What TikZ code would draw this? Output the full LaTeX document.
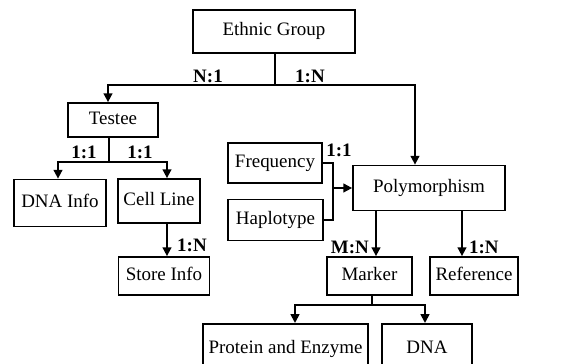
\documentclass[tikz,border=0pt]{standalone}
\usepackage{fontspec}
\setmainfont{Liberation Serif}
\usetikzlibrary{arrows.meta}
\usetikzlibrary{positioning}
\usetikzlibrary{calc}

\begin{document}
\begin{tikzpicture}[x=0.02cm,y=-0.02cm,font=\fontsize{10.8}{12}\selectfont]
\tikzstyle{ent node}=[rectangle,draw,line width=1pt,inner sep=1.5,align=center,text height=7.5pt,text depth=2.5pt]
\tikzstyle{card}=[font=\fontsize{10.8}{12}\selectfont\bfseries,inner sep=1]
\tikzset{
  link/.style = {line width=1pt},
  arr/.style = {line width=1pt,-{Triangle[length=5pt,width=5pt]}}
}
\useasboundingbox (0,0) rectangle (569,364);

    \node[ent node,minimum width=3.24cm,minimum height=0.86cm] (eg) at (274,31.5) {Ethnic Group};
    \node[ent node,minimum width=1.8cm,minimum height=0.68cm] (testee) at (113,120) {Testee};
    \node[ent node,minimum width=1.84cm,minimum height=0.94cm] (dnainfo) at (60,203) {DNA Info};
    \node[ent node,minimum width=1.64cm,minimum height=0.88cm] (cellline) at (159,201) {Cell Line};
    \node[ent node,minimum width=1.82cm,minimum height=0.76cm] (storeinfo) at (164,276) {Store Info};
    \node[ent node,minimum width=1.88cm,minimum height=0.8cm] (freq) at (275,163) {Frequency};
    \node[ent node,minimum width=1.9cm,minimum height=0.82cm] (haplo) at (275.5,220) {Haplotype};
    \node[ent node,minimum width=3.04cm,minimum height=0.9cm] (poly) at (429,188) {Polymorphism};
    \node[ent node,minimum width=1.7cm,minimum height=0.76cm] (marker) at (369.5,276) {Marker};
    \node[ent node,minimum width=1.76cm,minimum height=0.76cm] (reference) at (474,276) {Reference};
    \node[ent node,minimum width=3.3cm,minimum height=1cm,anchor=north] (protein) at (285.5,323) {Protein and Enzyme};
    \node[ent node,minimum width=1.8cm,minimum height=1cm,anchor=north] (dna) at (427,323) {DNA};

    %%%%%%%%%%%%%%%%%%%%%%%%%%
    \coordinate (egsplit) at (275,85);
    \coordinate (tsplit) at (109,162);
    \coordinate (join) at (333,188);
    \coordinate (msplit) at (372,305);

    \draw[link] (eg.south -| egsplit) -- (egsplit);
    \draw[arr] (egsplit) -| ([xshift=-0.1cm]testee.north);
    \draw[arr] (egsplit) -| ([xshift=-0.28cm]poly.north);

    \draw[link] (testee.south -| tsplit) -- (tsplit);
    \draw[arr] (tsplit) -| ([xshift=-0.04cm]dnainfo.north);
    \draw[arr] (tsplit) -| ([xshift=0.16cm]cellline.north);
    \draw[arr] ([xshift=0.16cm]cellline.south) -- ([xshift=0.16cm]cellline.south |- storeinfo.north);

    \draw[link] (freq.east) -| (join);
    \draw[link] (haplo.east) -| (join);
    \draw[arr] (join) -- (join -| poly.west);

    \draw[arr] ([xshift=-1.06cm]poly.south) -- ([xshift=-1.06cm]poly.south |- marker.north);
    \draw[arr] ([xshift=0.66cm]poly.south) -- ([xshift=0.66cm]poly.south |- reference.north);

    \draw[link] (marker.south -| msplit) -- (msplit);
    \draw[arr] (msplit) -| ([xshift=0.19cm]protein.north);
    \draw[arr] (msplit) -| ([xshift=-0.04cm]dna.north);

    %%%%%%%%%%%%%%%%%%%%%%%%%%
    \node[card] (c1) at (208,76) {N:1};
    \node[card] (c2) at (310,76) {1:N};
    \node[card] (c3) at (84,152) {1:1};
    \node[card] (c4) at (140,152) {1:1};
    \node[card] (c5) at (192,245) {1:N};
    \node[card] (c6) at (339,150) {1:1};
    \node[card,anchor=east] (c7) at (371,247) {M:N};
    \node[card,anchor=west] (c8) at (467,247) {1:N};
\end{tikzpicture}
\end{document}
